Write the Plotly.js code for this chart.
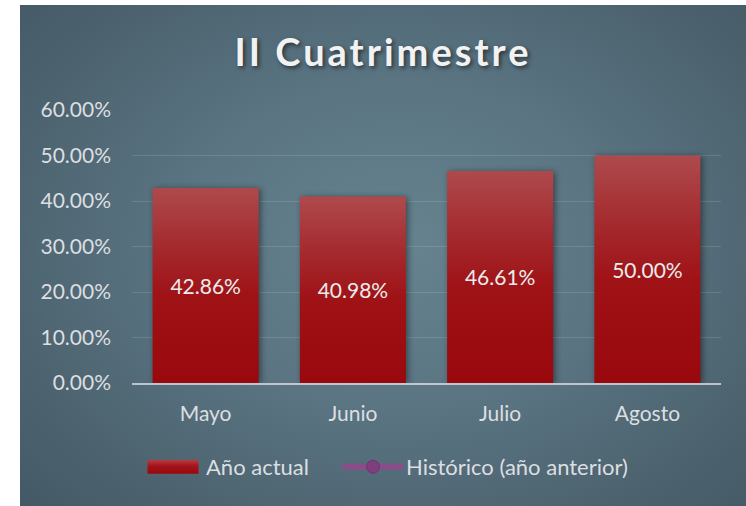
<!DOCTYPE html>
<html><head><meta charset="utf-8">
<script src="https://cdn.plot.ly/plotly-3.0.1.min.js"></script>
<style>
html,body{margin:0;padding:0;background:#fff;width:746px;height:506px;overflow:hidden;}
#chart{position:absolute;left:20px;top:5px;width:726px;height:501px;
background: radial-gradient(ellipse 72% 78% at 52% 48%, #66838f 0%, #5b7583 40%, #4d6470 75%, #435865 100%);}
.gtitle{letter-spacing:3px;}
</style></head><body><div id="chart"></div>
<script>
const categories = ['Mayo', 'Junio', 'Julio', 'Agosto'];
const anoActual = [0.4286, 0.4098, 0.4661, 0.5000];
const historico = [null, null, null, null];
const seriesNames = ['Año actual', 'Histórico (año anterior)'];
const chartTitle = 'II Cuatrimestre';
const yTicks = [0, 0.1, 0.2, 0.3, 0.4, 0.5, 0.6];

const FONT = 'Lato, "Open Sans", sans-serif';
const TXT = '#dcdfe1';
const FS = 21;

const traces = [
  {
    type: 'bar', name: seriesNames[0], x: categories, y: anoActual,
    marker: {color: '#a01418', line: {width: 0}},
    texttemplate: '%{y:.2%}', textposition: 'inside', insidetextanchor: 'middle',
    textangle: 0, textfont: {family: FONT, size: FS, color: '#ececec'},
    hoverinfo: 'skip', legend: 'legend'
  },
  {
    type: 'scatter', mode: 'lines+markers', name: seriesNames[1], x: categories, y: historico,
    line: {color: 'rgba(142,76,138,0.92)', width: 6},
    marker: {size: 13, color: '#7f3f7e', line: {color: 'rgba(110,50,105,0.9)', width: 1}},
    hoverinfo: 'skip', legend: 'legend2'
  }
];

const legendBase = {
  orientation: 'h', xref: 'container', xanchor: 'left',
  yref: 'container', y: 0.078, yanchor: 'middle',
  itemwidth: 56, bgcolor: 'rgba(0,0,0,0)',
  font: {family: FONT, size: 22, color: TXT},
  itemclick: false, itemdoubleclick: false
};

const layout = {
  width: 726, height: 501,
  paper_bgcolor: 'rgba(0,0,0,0)', plot_bgcolor: 'rgba(0,0,0,0)',
  margin: {l: 112, r: 25, t: 105, b: 123},
  bargap: 0.28,
  showlegend: true,
  font: {family: FONT, color: TXT, size: FS},
  title: {
    text: chartTitle, x: 0.5, xanchor: 'center', xref: 'container',
    y: 0.904, yanchor: 'middle', yref: 'container',
    font: {family: FONT, size: 38, weight: 700, color: '#f2f2f2', shadow: '2px 2px 4px rgba(0,0,0,0.55)'}
  },
  xaxis: {
    type: 'category', showgrid: false, zeroline: false,
    showline: true, linecolor: 'rgba(215,220,224,0.8)', linewidth: 2,
    ticks: '', ticklabelstandoff: 11,
    tickfont: {family: FONT, size: FS, color: TXT}, fixedrange: true
  },
  yaxis: {
    range: [0, 0.6], tickvals: yTicks, tickformat: '.2%',
    showgrid: true, gridcolor: 'rgba(255,255,255,0.13)', gridwidth: 1,
    zeroline: false, showline: false, ticks: '', ticklabelstandoff: 20,
    tickfont: {family: FONT, size: FS, color: TXT}, fixedrange: true
  },
  legend: Object.assign({}, legendBase, {x: 120 / 726}),
  legend2: Object.assign({}, legendBase, {x: 320 / 726})
};

Plotly.newPlot('chart', traces, layout, {displayModeBar: false, staticPlot: true}).then(function (gd) {
  const svg = gd.querySelector('svg.main-svg');
  const NS = 'http://www.w3.org/2000/svg';
  let defs = svg.querySelector('defs');
  if (!defs) { defs = document.createElementNS(NS, 'defs'); svg.insertBefore(defs, svg.firstChild); }
  function grad(id, stops) {
    const g = document.createElementNS(NS, 'linearGradient');
    g.setAttribute('id', id); g.setAttribute('x1', '0'); g.setAttribute('y1', '0');
    g.setAttribute('x2', '0'); g.setAttribute('y2', '1');
    stops.forEach(function (s) {
      const st = document.createElementNS(NS, 'stop');
      st.setAttribute('offset', s[0]); st.setAttribute('stop-color', s[1]);
      g.appendChild(st);
    });
    defs.appendChild(g);
  }
  grad('barGrad', [['0%', '#ae4a4c'], ['30%', '#a42a2e'], ['55%', '#9f1216'], ['100%', '#99080c']]);
  grad('legGrad', [['0%', '#b34045'], ['45%', '#a3141a'], ['100%', '#9a070c']]);
  gd.querySelectorAll('.barlayer .point path').forEach(function (p) {
    p.style.fill = 'url(#barGrad)';
    p.style.filter = 'drop-shadow(2px 1px 3px rgba(0,0,0,0.45))';
  });
  const leg1 = gd.querySelector('.legend .traces');
  if (leg1) {
    const bp = leg1.querySelector('.legendpoints path');
    if (bp) {
      bp.setAttribute('d', 'M-25.5,7H25.5V-7H-25.5Z');
      bp.style.fill = 'url(#legGrad)';
      bp.style.stroke = 'none';
    }
  }
  gd.querySelectorAll('.legend2 .legendlines path, .legendlines path').forEach(function (p) {
    p.style.strokeLinecap = 'round';
  });
});
</script></body></html>
